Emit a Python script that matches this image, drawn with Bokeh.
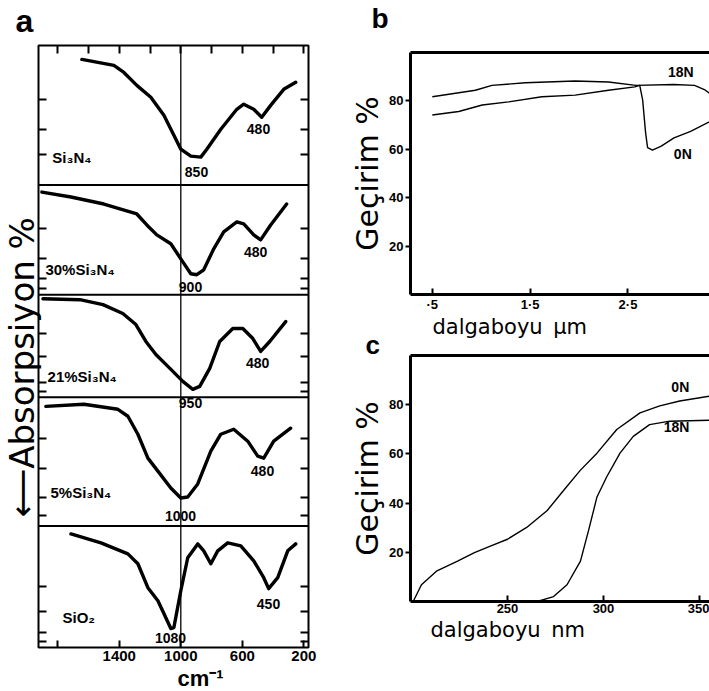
from bokeh.plotting import figure
from bokeh.models import Range1d, LinearAxis, FixedTicker, Span, Label, Title
from bokeh.layouts import row, column
from bokeh.embed import file_html
from bokeh.resources import INLINE

# ---------------- Panel a : IR absorption spectra ----------------
sample_names = ["Si₃N₄", "30%Si₃N₄", "21%Si₃N₄", "5%Si₃N₄", "SiO₂"]
panel_heights = [140, 110, 103, 129, 122]          # relative heights, top to bottom

si3n4_wn = [1643, 1435, 1370, 1286, 1195, 1110, 1045, 1000, 935, 870, 831, 740, 636, 591, 526, 474, 416, 331, 253]
si3n4_ab = [90, 85.7, 80.7, 71.4, 62.9, 50, 35.7, 25.7, 20.7, 20, 25.7, 40, 54.3, 57.9, 54.3, 48.6, 57.1, 68.6, 73.6]

p30_wn = [1903, 1714, 1500, 1286, 1221, 1156, 1065, 1000, 935, 896, 851, 786, 721, 636, 591, 526, 481, 416, 312]
p30_ab = [93.6, 89.1, 82.7, 73.6, 63.6, 54.5, 46.4, 32.7, 19.1, 18.2, 22.7, 41.8, 57.3, 66.4, 64.5, 54.5, 50, 63.6, 82.7]

p21_wn = [1896, 1656, 1506, 1377, 1292, 1227, 1162, 1071, 987, 922, 877, 812, 747, 662, 597, 532, 481, 422, 318]
p21_ab = [96.1, 95.1, 90.3, 81.6, 70.9, 54.4, 41.7, 28.2, 15.5, 7.8, 10.7, 28.2, 54.4, 67, 67, 57.3, 44.7, 54.4, 73.8]

p5_wn = [1877, 1630, 1409, 1344, 1279, 1214, 1149, 1065, 1000, 955, 890, 805, 740, 656, 565, 500, 461, 396, 286]
p5_ab = [93, 94.6, 90.7, 85.3, 71.3, 52.7, 42.6, 29.5, 21.7, 22.5, 32.6, 58.1, 71.3, 75.2, 65.9, 54.3, 52.7, 65.9, 76]

sio2_wn = [1714, 1519, 1344, 1279, 1214, 1149, 1110, 1065, 1045, 1000, 955, 890, 851, 805, 760, 695, 610, 526, 461, 429, 370, 305, 253]
sio2_ab = [93.4, 86.1, 77, 68.9, 49.2, 38.5, 27.9, 15.6, 16.4, 46.7, 73.8, 85.2, 79.5, 68.9, 79.5, 86.1, 83.6, 71.3, 57.4, 48.4, 57.4, 79.5, 85.2]

# sample label anchors (wavenumber, level)
sample_label_pos = [(1835, 20), (1880, 22.7), (1866, 20.4), (1847, 25.6), (1769, 24.6)]
# peak labels per panel: (wavenumber, level, text)
peak_labels = [
    [(898, 9.3, "850"), (495, 40, "480")],
    [(937, 7.3, "900"), (514, 39, "480")],
    [(937, -5.5, "950"), (501, 33, "480")],
    [(1002, 8, "1000"), (469, 42.6, "480")],
    [(1067, 8, "1080"), (430, 36, "450")],
]
side_ticks = [[22, 40, 61], [6, 15, 33, 60], [6, 14, 40, 62], [8, 22, 45, 68], [5, 12, 30, 50]]

a_bottom_ticks = [1800, 1400, 1000, 600, 200]
a_top_ticks = [1800, 1600, 1400, 1200, 1000, 800, 600, 400, 200]

# ---------------- Panel b : IR transmission ----------------
b_wl_18N = [0.5, 0.94, 1.11, 1.45, 1.96, 2.3, 2.58, 2.97, 3.18, 3.28, 3.34]
b_tr_18N = [81.7, 84.4, 86.4, 87.5, 88.2, 87.8, 86.4, 86.8, 86.4, 84.7, 83]
b_wl_0N = [0.5, 0.77, 1.01, 1.28, 1.62, 1.96, 2.3, 2.57, 2.62, 2.65, 2.68, 2.7, 2.75, 2.84, 2.97, 3.14, 3.34]
b_tr_0N = [74.2, 75.6, 78.3, 79.6, 81.7, 82.4, 84.4, 85.8, 86.4, 80.3, 66.8, 60.7, 59.7, 61.3, 64.7, 67.4, 71.5]
b_xticks = [0.5, 1.5, 2.5]
b_xtick_labels = ["·5", "1·5", "2·5"]

# ---------------- Panel c : UV transmission ----------------
c_wl_0N = [200.9, 205.2, 213, 224, 232.8, 241.4, 250, 260, 270.7, 279.3, 288, 296.6, 306.9, 319, 329.3, 339.7, 356]
c_tr_0N = [0, 6.8, 12.3, 16.4, 19.9, 22.6, 25.3, 30.1, 37, 45.2, 53.4, 60.3, 69.9, 76.7, 79.5, 81.5, 83.6]
c_wl_18N = [200, 265.5, 274, 281, 288, 292.2, 296.6, 301.7, 308.6, 315.5, 324, 334.5, 356]
c_tr_18N = [0, 0, 2, 6.8, 16.4, 28.8, 42.5, 50.7, 60.3, 67.1, 71.9, 73.3, 73.7]
c_xticks = [250, 300, 350]
y_ticks = [20, 40, 60, 80]

BOLD = "Liberation Sans"
SANS = "DejaVu Sans"
INK = "black"
HEADER_H = 34


def title(text, size, bold=False, **kw):
    return Title(text=text, text_font=BOLD if bold else SANS,
                 text_font_style="bold" if bold else "normal",
                 text_font_size=size, text_color=INK, **kw)


def label(x, y, text, size="14px", align="center", **kw):
    return Label(x=x, y=y, text=text, text_font=BOLD, text_font_style="bold",
                 text_font_size=size, text_align=align, text_baseline="middle",
                 text_color=INK, **kw)


def header(width, letter, x, y, size):
    """Blank strip above a panel carrying its panel letter."""
    h = figure(width=width, height=HEADER_H, x_range=Range1d(0, 1), y_range=Range1d(0, 1),
               output_backend="svg", toolbar_location=None,
               min_border_left=0, min_border_right=0, min_border_top=0, min_border_bottom=0,
               x_axis_location=None, y_axis_location=None)
    try:
        h.frame_align = False
    except AttributeError:
        pass
    h.grid.visible = False
    h.outline_line_color = None
    h.add_layout(Label(x=x, y=y, x_units="screen", y_units="screen", text=letter,
                       text_font=BOLD, text_font_style="bold", text_font_size=size,
                       text_align="center", text_baseline="alphabetic", text_color=INK))
    return h


# ======================= figure a =======================
total_h = sum(panel_heights)
pa = figure(width=330, height=691 - HEADER_H, x_range=Range1d(1925, 170),
            y_range=Range1d(0, total_h),
            output_backend="svg", toolbar_location=None,
            min_border_left=38, min_border_right=22, min_border_top=45 - HEADER_H,
            min_border_bottom=44, x_axis_location=None, y_axis_location=None)
pa.grid.visible = False
pa.outline_line_color = INK
pa.outline_line_width = 2

bottoms = []
acc = total_h
for h in panel_heights:
    acc -= h
    bottoms.append(acc)

curves = [(si3n4_wn, si3n4_ab), (p30_wn, p30_ab), (p21_wn, p21_ab), (p5_wn, p5_ab), (sio2_wn, sio2_ab)]
side_tick_pos = []
for i, (h, b0) in enumerate(zip(panel_heights, bottoms)):
    name = f"panel{i}"
    pa.extra_y_ranges[name] = Range1d(-b0 / h * 100, (total_h - b0) / h * 100)
    xs, ys = curves[i]
    pa.line(xs, ys, y_range_name=name, line_width=3.4, line_color=INK,
            line_join="round", line_cap="round")
    lx, ly = sample_label_pos[i]
    pa.add_layout(label(lx, ly, sample_names[i], size="15px", align="left", y_range_name=name))
    for (px, py, t) in peak_labels[i]:
        pa.add_layout(label(px, py, t, size="14px", y_range_name=name))
    for v in side_ticks[i]:
        side_tick_pos.append(b0 + v * h / 100)
    if b0 > 0:
        pa.add_layout(Span(location=b0, dimension="width", line_color=INK, line_width=2))

pa.add_layout(Span(location=1000, dimension="height", line_color=INK, line_width=1.3))

xb = LinearAxis(ticker=FixedTicker(ticks=a_bottom_ticks), major_label_overrides={1800: ""})
xb.major_tick_in = 7
xb.major_tick_out = 0
xb.major_tick_line_width = 2
xb.axis_line_color = None
xb.major_label_standoff = 3
xb.major_label_text_font = BOLD
xb.major_label_text_font_style = "bold"
xb.major_label_text_font_size = "15px"
xb.major_label_text_color = INK
pa.add_layout(xb, "below")

xt = LinearAxis(ticker=FixedTicker(ticks=a_top_ticks),
                major_label_overrides={t: "" for t in a_top_ticks})
xt.major_tick_in = 8
xt.major_tick_out = 0
xt.major_tick_line_width = 2
xt.axis_line_color = None
xt.major_label_standoff = 0
pa.add_layout(xt, "above")

for side in ("left", "right"):
    ya = LinearAxis(ticker=FixedTicker(ticks=side_tick_pos),
                    major_label_overrides={t: "" for t in side_tick_pos})
    ya.major_tick_in = 8
    ya.major_tick_out = 0
    ya.major_tick_line_width = 2
    ya.axis_line_color = None
    ya.major_label_standoff = 0
    pa.add_layout(ya, side)

pa.add_layout(title("cm⁻¹", "22px", bold=True, align="left", offset=139, standoff=0), "below")
pa.add_layout(title("⟵Absorpsiyon %", "34px", align="left", offset=130, standoff=-6), "left")

ha = header(330, "a", 24, 14, "32px")


def side_panel(width, height, xr, border_left, border_top, border_bottom, xticks, xlabels):
    p = figure(width=width, height=height, x_range=xr, y_range=Range1d(0, 100),
               output_backend="svg", toolbar_location=None,
               min_border_left=border_left, min_border_right=0,
               min_border_top=border_top, min_border_bottom=border_bottom,
               x_axis_location=None, y_axis_location=None)
    p.grid.visible = False
    p.outline_line_color = None
    ya = LinearAxis(ticker=FixedTicker(ticks=y_ticks))
    ya.axis_line_width = 3
    ya.axis_line_color = INK
    ya.major_tick_out = 5
    ya.major_tick_in = 0
    ya.major_tick_line_width = 2
    ya.major_tick_line_color = INK
    ya.major_label_standoff = 2
    ya.major_label_text_font = BOLD
    ya.major_label_text_font_style = "bold"
    ya.major_label_text_font_size = "13px"
    ya.major_label_text_color = INK
    ya.axis_label = "Geçirim %"
    ya.axis_label_text_font = SANS
    ya.axis_label_text_font_style = "normal"
    ya.axis_label_text_font_size = "30px"
    ya.axis_label_text_color = INK
    ya.axis_label_standoff = 1
    p.add_layout(ya, "left")
    xa = LinearAxis(ticker=FixedTicker(ticks=xticks),
                    major_label_overrides=dict(zip(xticks, xlabels)))
    xa.axis_line_width = 3
    xa.axis_line_color = INK
    xa.major_tick_out = 0
    xa.major_tick_in = 6
    xa.major_tick_line_width = 2
    xa.major_tick_line_color = INK
    xa.major_label_standoff = 2
    xa.major_label_text_font = BOLD
    xa.major_label_text_font_style = "bold"
    xa.major_label_text_font_size = "13px"
    xa.major_label_text_color = INK
    p.add_layout(xa, "below")
    xt = LinearAxis(ticker=FixedTicker(ticks=[]))
    xt.axis_line_width = 3
    xt.axis_line_color = INK
    xt.major_label_text_font_size = "0px"
    xt.major_label_standoff = 0
    p.add_layout(xt, "above")
    return p


# ======================= figure b =======================
hb = header(379, "b", 49.5, 16, "28px")
pb = side_panel(379, 314 - HEADER_H, Range1d(0.277, 3.333), 78, 52 - HEADER_H, 17,
                b_xticks, b_xtick_labels)
pb.line(b_wl_18N, b_tr_18N, line_width=1.4, line_color=INK)
pb.line(b_wl_0N, b_tr_0N, line_width=1.4, line_color=INK)
pb.add_layout(label(3.04, 92, "18N"))
pb.add_layout(label(3.06, 58, "0N"))

# ======================= figure c =======================
pc = side_panel(379, 377, Range1d(199.5, 355.2), 80, 41, 90, c_xticks, [str(t) for t in c_xticks])
pc.line(c_wl_0N, c_tr_0N, line_width=1.4, line_color=INK)
pc.line(c_wl_18N, c_tr_18N, line_width=1.4, line_color=INK)
pc.add_layout(label(340, 87, "0N"))
pc.add_layout(label(338, 71, "18N"))
pc.add_layout(title("c", "26px", bold=True, align="left", offset=-45, standoff=-8), "above")
pc.add_layout(title("dalgaboyu\u2002µm", "21px", align="left", offset=22, standoff=-15), "above")
pc.add_layout(title("dalgaboyu\u2002nm", "21px", align="left", offset=20, standoff=0), "below")

layout = column(row(ha, hb), row(pa, column(pb, pc)))
open("out.html", "w").write(file_html(layout, INLINE))
